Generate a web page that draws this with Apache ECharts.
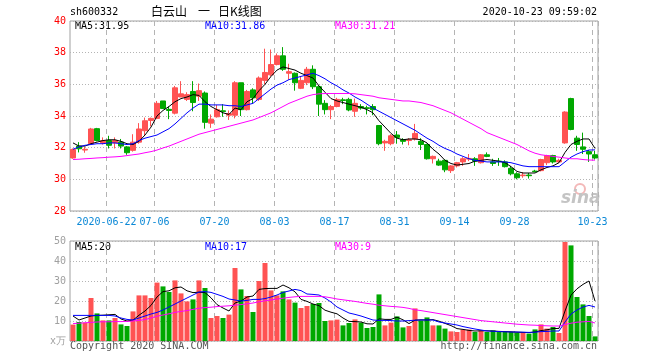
<!DOCTYPE html>
<html><head><meta charset="utf-8">
<script src="https://cdn.jsdelivr.net/npm/echarts/dist/echarts.min.js"></script>
<style>html,body{margin:0;padding:0;background:#fff}#c{width:660px;height:360px}</style>
</head><body><div id="c"></div>
<script>
const dates = [
'2020-06-12','2020-06-15','2020-06-16','2020-06-17','2020-06-18','2020-06-19','2020-06-22','2020-06-23','2020-06-24','2020-06-29','2020-06-30',
'2020-07-01','2020-07-02','2020-07-03','2020-07-06','2020-07-07','2020-07-08','2020-07-09','2020-07-10','2020-07-13','2020-07-14','2020-07-15','2020-07-16','2020-07-17','2020-07-20','2020-07-21','2020-07-22','2020-07-23','2020-07-24','2020-07-27','2020-07-28','2020-07-29','2020-07-30','2020-07-31',
'2020-08-03','2020-08-04','2020-08-05','2020-08-06','2020-08-07','2020-08-10','2020-08-11','2020-08-12','2020-08-13','2020-08-14','2020-08-17','2020-08-18','2020-08-19','2020-08-20','2020-08-21','2020-08-24','2020-08-25','2020-08-26','2020-08-27','2020-08-28','2020-08-31',
'2020-09-01','2020-09-02','2020-09-03','2020-09-04','2020-09-07','2020-09-08','2020-09-09','2020-09-10','2020-09-11','2020-09-14','2020-09-15','2020-09-16','2020-09-17','2020-09-18','2020-09-21','2020-09-22','2020-09-23','2020-09-24','2020-09-25','2020-09-28','2020-09-29','2020-09-30',
'2020-10-09','2020-10-12','2020-10-13','2020-10-14','2020-10-15','2020-10-16','2020-10-19','2020-10-20','2020-10-21','2020-10-22','2020-10-23'];

const opens  = [31.35,32.1,31.85,32.25,33.2,32.3,32.45,32.3,32.35,32.05,31.83,32.35,33.07,33.72,33.85,34.95,34.42,34.18,35.2,35.05,35.55,35.25,35.45,33.55,33.95,34.33,34.05,34.05,36.1,34.4,35.65,35.05,36.25,36.6,37.25,37.8,36.7,36.7,35.75,36.1,36.95,35.85,34.8,34.4,34.6,35.02,35.05,34.3,34.6,34.52,34.6,33.4,32.3,32.25,32.8,32.5,32.45,32.55,32.4,32.2,31.3,31.15,31.2,30.55,30.85,31.1,31.28,31.3,31.05,31.55,31.1,31.15,31.1,30.7,30.35,30.23,30.27,30.52,30.55,31.05,31.5,31.1,32.3,35.1,32.6,32.05,31.75,31.55];
const closes = [31.89,31.93,31.9,33.18,32.45,32.45,32.15,32.45,32.1,31.68,32.35,33.18,33.7,33.85,34.8,34.47,34.35,35.78,35.4,35.35,34.85,35.6,33.6,33.8,34.4,34.28,34.15,36.1,34.4,35.55,35.15,36.4,36.75,37.25,37.8,36.95,36.8,36.1,36.25,36.95,35.85,34.75,34.4,34.6,35.05,34.98,34.38,34.8,34.5,34.48,34.4,32.25,32.4,32.75,32.65,32.4,32.5,32.9,32.2,31.3,31.45,30.9,30.6,30.85,31.05,31.3,31.32,31.15,31.55,31.45,31.0,31.12,30.8,30.35,30.1,30.27,30.23,30.48,31.25,31.5,31.1,31.2,34.25,33.15,32.2,31.9,31.6,31.35];
const lows   = [31.3,31.7,31.68,32.2,32.4,32.2,31.95,31.95,31.95,31.55,31.75,32.25,32.75,33.35,33.8,34.45,33.8,34.1,35.2,34.95,34.3,34.95,33.2,33.25,33.9,33.95,33.75,33.85,34.0,34.35,34.8,34.95,36.0,36.5,37.2,36.85,36.3,35.6,35.7,35.95,35.7,34.0,34.1,33.8,34.55,34.75,34.3,33.95,34.4,34.1,34.05,32.15,31.8,32.15,32.25,32.2,32.15,32.45,31.85,31.25,31.0,30.85,30.45,30.4,30.75,30.85,31.15,30.85,31.0,31.4,30.85,30.85,30.75,30.25,30.0,30.1,30.05,30.45,30.5,30.9,31.0,31.05,32.25,33.1,31.8,31.6,31.1,31.25];
const highs  = [31.95,32.35,32.05,33.25,33.25,32.65,32.75,32.65,32.55,32.1,32.85,33.55,33.9,33.9,34.95,34.95,34.6,35.9,36.2,35.5,36.2,36.05,35.55,34.1,34.7,34.75,34.35,36.2,36.1,35.65,35.75,36.5,38.25,38.2,37.95,38.35,37.3,36.75,36.5,37.1,37.2,35.95,35.0,34.7,35.15,35.15,35.15,35.1,34.75,34.65,34.75,33.4,32.5,32.85,33.05,32.6,32.6,33.5,32.6,32.25,31.5,31.3,31.25,30.9,31.1,31.4,31.6,31.4,31.6,31.7,31.3,31.35,31.2,30.85,30.45,30.45,30.4,30.6,31.3,31.55,31.55,31.3,34.3,35.15,32.75,32.95,31.85,31.8];

const ma5  = [32.3,32.1,32.1,32.25,32.35,32.45,32.5,32.5,32.4,32.25,32.2,32.4,32.8,33.3,34.0,34.35,34.6,34.9,35.1,35.2,35.35,35.3,34.9,34.6,34.4,34.2,34.1,34.5,34.4,34.9,35.1,35.6,36.0,36.5,36.9,37.1,37.0,36.9,36.7,36.55,36.4,35.9,35.5,35.1,34.95,34.85,34.75,34.65,34.55,34.4,34.2,33.7,33.3,32.9,32.6,32.5,32.55,32.55,32.5,32.3,31.9,31.6,31.2,31.0,30.9,30.95,31.0,31.15,31.2,31.25,31.2,31.15,31.05,30.8,30.5,30.4,30.4,30.4,30.6,30.75,30.85,31.05,31.7,32.2,32.4,32.55,32.55,31.95];
const ma10 = [31.9,32.05,32.15,32.2,32.25,32.25,32.3,32.3,32.25,32.2,32.25,32.45,32.6,32.7,32.8,33.0,33.2,33.5,33.85,34.2,34.5,34.75,34.75,34.7,34.7,34.7,34.65,34.65,34.6,34.7,34.8,35.1,35.4,35.7,35.95,36.1,36.3,36.4,36.5,36.6,36.7,36.55,36.35,36.1,35.9,35.65,35.45,35.2,35.0,34.75,34.5,34.3,34.1,33.9,33.7,33.5,33.3,33.1,32.85,32.6,32.4,32.15,31.95,31.8,31.6,31.45,31.3,31.2,31.15,31.1,31.1,31.1,31.1,31.05,30.95,30.85,30.8,30.8,30.8,30.8,30.8,30.8,31.1,31.4,31.6,31.75,31.85,31.86];
const ma30 = [31.25,31.27,31.3,31.32,31.35,31.37,31.4,31.42,31.45,31.5,31.55,31.6,31.68,31.75,31.85,31.98,32.1,32.25,32.4,32.55,32.7,32.85,32.95,33.05,33.15,33.25,33.35,33.45,33.55,33.65,33.75,33.9,34.05,34.2,34.4,34.6,34.8,34.95,35.1,35.25,35.35,35.4,35.42,35.42,35.42,35.42,35.42,35.4,35.35,35.3,35.25,35.15,35.1,35.05,35.0,34.95,34.95,34.9,34.85,34.75,34.65,34.5,34.35,34.2,34.0,33.8,33.6,33.4,33.2,32.95,32.8,32.65,32.5,32.35,32.2,32.0,31.8,31.65,31.55,31.5,31.45,31.4,31.35,31.3,31.3,31.25,31.22,31.21];

const volumes = [8.2,9.5,9.2,21.5,13.8,10.3,10.3,11.5,8.3,7.5,14.8,22.8,22.8,21.5,29.2,27.3,24.5,30.3,23.8,19.8,20.8,30.3,26.5,11.5,12.5,11.5,13.2,36.5,25.8,22.5,14.5,30,39,25.3,22.8,24.8,20.8,19.2,16.5,17.5,18.5,19,10,10.3,10.7,7.8,9,10.8,9.2,6.5,7,23.3,7.8,9.2,12.3,6.8,7.5,16.3,10.3,11.8,7.8,7.8,6.2,4.8,4.5,5.7,5.7,4.5,5.3,4.5,5.3,4.5,4.5,4.5,4.2,4.2,3.7,5.8,8.3,6.2,7,4,49.5,47.8,22,18.3,12.5,2.3];
const vma5  = [12.5,10.5,11.5,12.5,12.8,12.9,13.1,13.3,11.0,10.0,10.4,12.9,15.0,17.8,22.0,24.7,25.1,26.6,27.0,25.1,24.2,24.4,24.2,21.6,18.2,16.5,15.0,19.0,20.0,22.0,22.5,25.8,26.2,26.3,26.3,28.0,26.6,24.6,20.8,19.8,18.5,17.7,15.4,14.4,13.6,11.5,9.8,9.7,9.5,8.6,8.5,11.1,10.8,10.8,11.9,10.6,8.7,10.4,10.6,10.5,10.7,9.9,8.8,7.7,6.2,5.8,5.3,5.0,5.1,5.1,5.0,4.8,4.7,4.6,4.4,4.3,4.2,4.5,5.2,5.6,6.2,6.3,15.0,22.9,26.1,28.3,30.0,20];
const vma10 = [12.8,12.8,12.8,12.8,12.8,12.8,12.8,12.5,11.5,10.8,10.5,11.5,12.5,13.5,14.3,15.5,17.0,18.5,20.0,21.5,23.0,24.5,24.7,24.3,23.3,22.3,21.0,20.5,20.0,20.3,20.8,20.8,21.2,22.0,23.0,24.3,25.0,25.8,25.2,23.5,23.3,23.0,21.5,19.5,17.0,15.5,14.0,13.3,12.5,11.5,10.5,10.3,10.3,10.2,10.0,10.0,10.2,10.4,10.5,10.5,10.5,9.5,9.0,8.5,8.0,7.2,6.6,6.0,5.5,5.0,4.9,4.7,4.6,4.5,4.5,4.4,4.3,4.4,4.7,4.8,5.0,5.0,9.5,13.5,15.5,17.0,17.8,17];
const vma30 = [8.7,8.9,9.1,9.3,9.5,9.6,9.6,9.7,9.7,9.8,10.0,10.3,10.7,11.5,12.4,13.0,13.6,14.3,14.8,15.2,15.8,16.4,16.7,16.9,17.2,17.4,17.6,17.9,18.2,18.6,19.0,19.6,20.1,20.5,21.0,21.4,21.8,22.1,22.3,22.3,22.3,22.3,22.1,21.6,21.0,20.6,20.2,19.8,19.3,18.8,18.4,17.9,17.6,17.3,17.1,16.8,16.3,15.6,15.2,14.7,14.2,13.7,13.2,12.7,12.2,11.7,11.2,10.7,10.2,9.9,9.6,9.3,9.0,8.7,8.4,8.2,8.0,7.9,7.7,7.6,7.5,7.5,8.2,8.9,9.4,9.6,9.8,9];

const labelDates = ['2020-06-22','2020-07-06','2020-07-20','2020-08-03','2020-08-17','2020-08-31','2020-09-14','2020-09-28','2020-10-23'];
const priceMin = 28, priceMax = 40, priceStep = 2;
const volMin = 0, volMax = 50, volStep = 10;

const UP = '#ff5353', DOWN = '#00a800';
const MONO = '"DejaVu Sans Mono", monospace';
const last = a => a[a.length - 1];

const kData = dates.map((d, i) => [opens[i], closes[i], lows[i], highs[i]]);
const vData = volumes.map((v, i) => ({ value: v, itemStyle: { color: closes[i] >= opens[i] ? UP : DOWN } }));
const isMark = (idx, val) => labelDates.indexOf(val) >= 0;

const chart = echarts.init(document.getElementById('c'), null, { renderer: 'canvas' });
const lineS = (name, data, color, xi, yi) => ({
  name, type: 'line', data, xAxisIndex: xi, yAxisIndex: yi, showSymbol: false, symbol: 'none',
  lineStyle: { width: 1, color }, itemStyle: { color }, silent: true, z: 5
});
const txt = (x, y, text, color, extra) => Object.assign({
  type: 'text', left: x, top: y, silent: true,
  style: { text, fill: color, font: '10px ' + MONO }
}, extra || {});

chart.setOption({
  animation: false,
  backgroundColor: '#fff',
  grid: [
    { left: 70, top: 21, width: 528, height: 190, show: true, borderColor: '#a0a0a0', borderWidth: 1, backgroundColor: 'transparent' },
    { left: 70, top: 241, width: 528, height: 100, show: true, borderColor: '#a0a0a0', borderWidth: 1, backgroundColor: 'transparent' }
  ],
  xAxis: [
    { type: 'category', gridIndex: 0, data: dates, boundaryGap: true,
      axisLine: { show: false }, axisTick: { show: false },
      axisLabel: { interval: isMark, color: '#0b88d6', fontFamily: MONO, fontSize: 10, margin: 6,
        padding: [0, 5, 0, 0],
        formatter: v => (v === labelDates[0] ? v : v.slice(5)) },
      splitLine: { show: true, interval: isMark, lineStyle: { color: '#b4b4b4', type: [5, 4], width: 1 } } },
    { type: 'category', gridIndex: 1, data: dates, boundaryGap: true,
      axisLine: { show: false }, axisTick: { show: false }, axisLabel: { show: false },
      splitLine: { show: true, interval: isMark, lineStyle: { color: '#b4b4b4', type: [5, 4], width: 1 } } }
  ],
  yAxis: [
    { type: 'value', gridIndex: 0, min: priceMin, max: priceMax, interval: priceStep,
      axisLine: { show: false }, axisTick: { show: false },
      axisLabel: { color: '#ff0000', fontFamily: MONO, fontSize: 10, margin: 4 },
      splitLine: { show: true, lineStyle: { color: '#b4b4b4', type: [1, 2], width: 1 } } },
    { type: 'value', gridIndex: 1, min: volMin, max: volMax, interval: volStep,
      axisLine: { show: false }, axisTick: { show: false },
      axisLabel: { color: '#a0a0a0', fontFamily: MONO, fontSize: 10, margin: 4,
        formatter: v => (v === 0 ? 'x万' : String(v)) },
      splitLine: { show: true, lineStyle: { color: '#b4b4b4', type: [1, 2], width: 1 } } }
  ],
  series: [
    { type: 'candlestick', xAxisIndex: 0, yAxisIndex: 0, data: kData, barWidth: 5, silent: true, z: 3,
      itemStyle: { color: UP, color0: DOWN, borderColor: UP, borderColor0: DOWN, borderWidth: 1 } },
    lineS('MA5', ma5, '#000000', 0, 0),
    lineS('MA10', ma10, '#0000ff', 0, 0),
    lineS('MA30', ma30, '#ff00ff', 0, 0),
    { type: 'bar', xAxisIndex: 1, yAxisIndex: 1, data: vData, barWidth: 5, silent: true, z: 3 },
    lineS('VMA5', vma5, '#000000', 1, 1),
    lineS('VMA10', vma10, '#0000ff', 1, 1),
    lineS('VMA30', vma30, '#ff00ff', 1, 1)
  ],
  graphic: [
    txt(70, 7, 'sh600332', '#000'),
    { type: 'text', left: 151, top: 5, silent: true, style: { text: '白云山', fill: '#000', font: '12px "Noto Sans CJK SC"' } },
    { type: 'text', left: 198, top: 5, silent: true, style: { text: '一', fill: '#000', font: '12px "Noto Sans CJK SC"' } },
    { type: 'text', left: 218, top: 5, silent: true, style: { text: '日K线图', fill: '#000', font: '12px "Noto Sans CJK SC"' } },
    { type: 'text', right: 63, top: 7, silent: true, style: { text: '2020-10-23 09:59:02', fill: '#000', font: '10px ' + MONO } },
    txt(75, 21, 'MA5:' + last(ma5).toFixed(2), '#000'),
    txt(205, 21, 'MA10:' + last(ma10).toFixed(2), '#0000ff'),
    txt(335, 21, 'MA30:' + last(ma30).toFixed(2), '#ff00ff'),
    txt(75, 242, 'MA5:' + last(vma5), '#000'),
    txt(205, 242, 'MA10:' + last(vma10), '#0000ff'),
    txt(335, 242, 'MA30:' + last(vma30), '#ff00ff'),
    txt(70, 341, 'Copyright 2020 SINA.COM', '#555'),
    { type: 'text', right: 63, top: 341, silent: true, style: { text: 'http://finance.sina.com.cn', fill: '#555', font: '10px ' + MONO } },
    { type: 'circle', shape: { cx: 580, cy: 189, r: 5 }, silent: true, style: { fill: 'none', stroke: '#f3b8b8', lineWidth: 2 } },
    { type: 'text', left: 561, top: 190, silent: true, style: { text: 'sina', fill: '#c4c4c4', font: 'italic bold 17px "DejaVu Sans"' } }
  ]
});
</script>
</body></html>
